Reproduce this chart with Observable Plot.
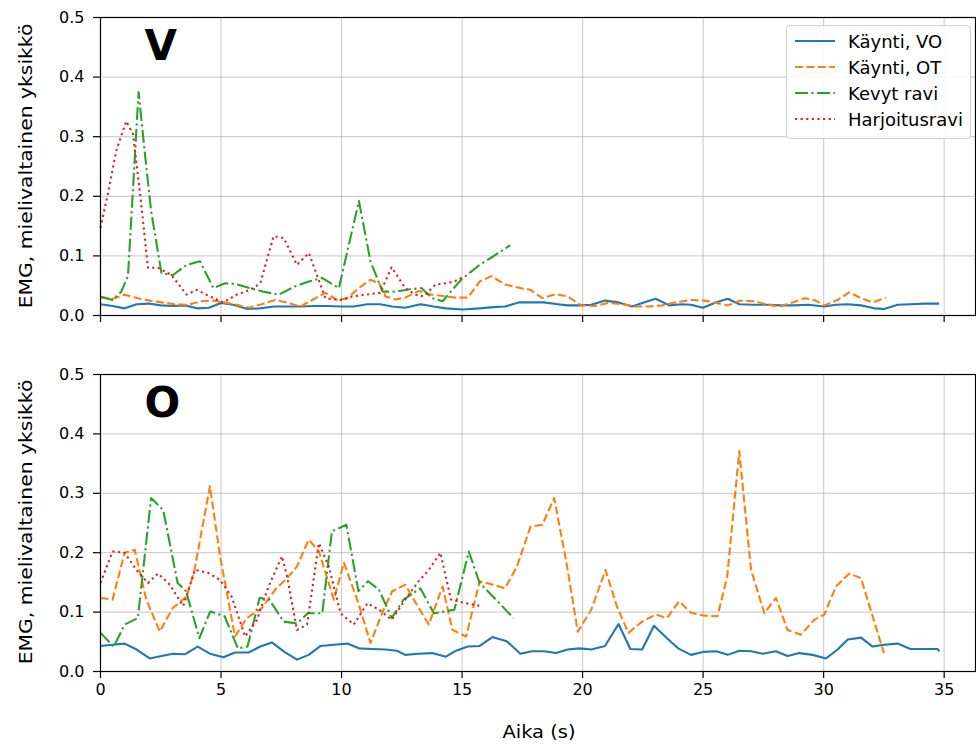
<!DOCTYPE html>
<html>
<head>
<meta charset="utf-8">
<script src="https://cdn.jsdelivr.net/npm/d3@7"></script>
<script src="https://cdn.jsdelivr.net/npm/@observablehq/plot@0.6"></script>
<style>
  html, body { margin: 0; padding: 0; background: #fff; }
  #root { position: relative; width: 976px; height: 745px; overflow: hidden; font-family: "DejaVu Sans", sans-serif; color: #000; }
  .ylab { position: absolute; font-size: 18px; white-space: nowrap; transform: translate(-50%, -50%) rotate(-90deg) scaleX(1.13); }
  .xlab { position: absolute; font-size: 18px; white-space: nowrap; transform: translate(-50%, -50%) scaleX(1.08); }
  #legend { position: absolute; left: 786px; top: 25px; width: 185px; height: 114px; border: 1px solid #d0d0d0; border-radius: 4px; background: rgba(255,255,255,0.85); box-sizing: border-box; }
  #legend .row { position: absolute; left: 4px; height: 26px; display: flex; align-items: center; font-size: 18px; white-space: nowrap; }
  #legend .row svg { margin-right: 13px; }
</style>
</head>
<body>
<div id="root"></div>
<script>
// ---- Data ----
const seriesNames = ["Käynti, VO", "Käynti, OT", "Kevyt ravi", "Harjoitusravi"];
const seriesColors = ["#1f77b4", "#ff7f0e", "#2ca02c", "#d62728"];
const seriesDash = [null, "8,3.4", "13,3.4,2.2,3.4", "2.2,3.4"];
const panelLabels = ["V", "O"];
const xTicks = [0, 5, 10, 15, 20, 25, 30, 35];
const yTicks = [0, 0.1, 0.2, 0.3, 0.4, 0.5];

// Panel V: [time (s), EMG]
const V_kayntiVO = [[0,0.019],[0.5,0.016],[1.0,0.012],[1.5,0.019],[2.0,0.02],[2.5,0.017],[3.0,0.016],[3.5,0.017],[4.0,0.012],[4.5,0.013],[5.0,0.021],[5.5,0.018],[6.1,0.011],[6.6,0.012],[7.2,0.015],[7.7,0.015],[8.3,0.015],[8.85,0.016],[9.4,0.016],[9.96,0.015],[10.5,0.015],[11.07,0.019],[11.6,0.019],[12.1,0.015],[12.64,0.013],[13.27,0.019],[13.83,0.015],[14.33,0.012],[15.03,0.01],[15.73,0.012],[16.29,0.014],[16.78,0.015],[17.35,0.022],[17.9,0.022],[18.4,0.022],[18.96,0.019],[19.38,0.017],[19.87,0.017],[20.36,0.018],[20.93,0.025],[21.49,0.022],[22.05,0.015],[22.54,0.022],[23.03,0.028],[23.6,0.017],[24.1,0.019],[24.5,0.018],[24.99,0.013],[25.47,0.021],[26.02,0.028],[26.5,0.019],[27.13,0.018],[27.68,0.018],[28.23,0.017],[28.78,0.017],[29.34,0.018],[30.03,0.015],[30.51,0.018],[30.99,0.019],[31.55,0.017],[32.1,0.012],[32.51,0.011],[33.07,0.018],[33.62,0.019],[34.17,0.02],[34.79,0.02]];
const V_kayntiOT = [[0,0.03],[0.5,0.028],[1.0,0.035],[1.55,0.029],[2.04,0.025],[2.53,0.022],[3.08,0.019],[3.64,0.018],[4.19,0.024],[4.68,0.025],[5.1,0.022],[5.65,0.018],[6.14,0.013],[6.7,0.019],[7.25,0.026],[7.8,0.021],[8.29,0.015],[8.78,0.026],[9.33,0.038],[9.82,0.026],[10.24,0.029],[10.72,0.046],[11.2,0.06],[11.56,0.054],[11.83,0.032],[12.25,0.027],[12.64,0.03],[13.2,0.041],[13.76,0.035],[14.33,0.032],[14.75,0.03],[15.24,0.03],[15.73,0.057],[16.22,0.066],[16.78,0.052],[17.42,0.046],[17.84,0.043],[18.33,0.029],[18.89,0.036],[19.38,0.032],[19.94,0.017],[20.5,0.016],[21.07,0.021],[21.63,0.019],[22.19,0.015],[22.75,0.015],[23.31,0.017],[23.85,0.022],[24.5,0.026],[25.06,0.025],[25.54,0.021],[26.02,0.017],[26.57,0.025],[27.13,0.024],[27.68,0.018],[28.16,0.015],[28.65,0.021],[29.2,0.029],[29.61,0.026],[30.03,0.017],[30.58,0.026],[31.06,0.039],[31.55,0.029],[32.03,0.022],[32.58,0.03]];
const V_kevytRavi = [[0,0.032],[0.5,0.026],[0.86,0.04],[1.14,0.066],[1.58,0.375],[1.83,0.276],[2.1,0.175],[2.53,0.071],[3.01,0.068],[3.57,0.085],[4.13,0.091],[4.68,0.046],[5.17,0.054],[5.58,0.053],[6.2,0.046],[6.76,0.04],[7.39,0.035],[8.08,0.049],[8.64,0.057],[9.19,0.063],[9.89,0.046],[10.72,0.192],[11.2,0.091],[11.7,0.04],[12.25,0.04],[12.85,0.044],[13.31,0.046],[13.76,0.029],[14.19,0.024],[14.96,0.06],[15.73,0.085],[16.29,0.099],[17.0,0.118]];
const V_harjoitusRavi = [[0,0.147],[0.3,0.203],[0.65,0.276],[1.07,0.326],[1.35,0.304],[1.63,0.209],[1.97,0.08],[2.39,0.08],[2.94,0.068],[3.57,0.035],[3.99,0.043],[4.54,0.032],[5.1,0.022],[5.65,0.035],[6.2,0.043],[6.63,0.054],[7.18,0.133],[7.6,0.13],[8.15,0.085],[8.64,0.105],[9.33,0.029],[9.96,0.026],[10.44,0.032],[11.0,0.035],[11.6,0.038],[12.08,0.081],[12.64,0.046],[13.06,0.035],[13.41,0.032],[13.9,0.052],[14.33,0.054],[14.68,0.057],[15.1,0.066]];

// Panel O: [time (s), EMG]
const O_kayntiVO = [[0,0.043],[0.5,0.045],[1.0,0.047],[1.5,0.037],[2.04,0.022],[2.53,0.026],[3.01,0.03],[3.5,0.029],[4.03,0.042],[4.54,0.03],[5.1,0.024],[5.58,0.032],[6.14,0.032],[6.63,0.042],[7.11,0.049],[7.6,0.034],[8.15,0.02],[8.64,0.028],[9.13,0.043],[9.68,0.045],[10.24,0.047],[10.72,0.039],[11.28,0.038],[11.83,0.037],[12.3,0.035],[12.64,0.028],[13.2,0.03],[13.76,0.031],[14.33,0.025],[14.75,0.035],[15.24,0.042],[15.73,0.043],[16.26,0.058],[16.85,0.051],[17.42,0.03],[17.9,0.034],[18.4,0.034],[18.9,0.031],[19.38,0.037],[19.87,0.039],[20.36,0.037],[20.93,0.043],[21.49,0.08],[21.98,0.038],[22.47,0.037],[22.96,0.077],[23.5,0.056],[24.0,0.038],[24.5,0.028],[24.99,0.033],[25.54,0.034],[26.02,0.028],[26.5,0.035],[26.99,0.034],[27.47,0.03],[28.02,0.034],[28.5,0.026],[28.99,0.031],[29.54,0.028],[30.1,0.022],[30.58,0.037],[31.0,0.054],[31.55,0.057],[32.03,0.042],[32.5,0.045],[33.07,0.047],[33.6,0.038],[34.17,0.038],[34.72,0.038],[34.8,0.034]];
const O_kayntiOT = [[0,0.124],[0.5,0.121],[1.0,0.2],[1.42,0.205],[1.9,0.121],[2.46,0.067],[3.0,0.107],[3.57,0.126],[3.9,0.171],[4.54,0.312],[4.96,0.194],[5.58,0.059],[6.07,0.09],[6.7,0.107],[7.25,0.138],[7.74,0.157],[8.15,0.177],[8.64,0.222],[9.06,0.202],[9.68,0.121],[10.1,0.183],[10.7,0.115],[11.2,0.048],[11.7,0.1],[12.1,0.135],[12.64,0.146],[13.13,0.112],[13.62,0.079],[14.19,0.143],[14.6,0.07],[15.17,0.059],[15.73,0.152],[16.29,0.146],[16.78,0.14],[17.28,0.177],[17.84,0.244],[18.33,0.247],[18.82,0.292],[19.31,0.188],[19.8,0.067],[20.36,0.104],[20.95,0.171],[21.42,0.11],[21.9,0.065],[22.47,0.084],[23.03,0.096],[23.5,0.09],[24.0,0.118],[24.5,0.099],[25.06,0.094],[25.6,0.093],[26.0,0.16],[26.5,0.371],[26.99,0.171],[27.54,0.098],[28.02,0.124],[28.5,0.07],[29.06,0.062],[29.61,0.087],[30.03,0.096],[30.51,0.143],[31.06,0.165],[31.55,0.157],[32.5,0.031]];
const O_kevytRavi = [[0,0.065],[0.55,0.042],[1.0,0.079],[1.55,0.09],[2.1,0.292],[2.6,0.272],[3.2,0.149],[3.55,0.135],[4.1,0.056],[4.55,0.101],[5.15,0.093],[5.7,0.039],[6.1,0.042],[6.6,0.124],[7.0,0.121],[7.6,0.084],[8.15,0.081],[8.6,0.098],[9.2,0.098],[9.6,0.236],[10.2,0.247],[10.7,0.135],[11.1,0.152],[11.55,0.138],[12.08,0.09],[12.57,0.121],[13.27,0.14],[13.83,0.098],[14.68,0.104],[15.28,0.202],[15.73,0.149],[16.29,0.126],[17.13,0.09]];
const O_harjoitusRavi = [[0,0.149],[0.5,0.202],[1.0,0.2],[1.49,0.171],[1.97,0.149],[2.39,0.165],[2.88,0.146],[3.43,0.11],[3.92,0.171],[4.47,0.166],[4.96,0.154],[5.44,0.126],[6.0,0.059],[6.49,0.087],[6.97,0.143],[7.53,0.194],[7.74,0.16],[8.15,0.07],[8.57,0.079],[9.06,0.216],[9.47,0.177],[9.96,0.098],[10.51,0.079],[11.07,0.115],[11.56,0.104],[12.08,0.087],[12.64,0.121],[13.2,0.152],[13.62,0.171],[14.1,0.2],[14.54,0.121],[15.17,0.115],[15.8,0.11]];

const panelV = [V_kayntiVO, V_kayntiOT, V_kevytRavi, V_harjoitusRavi];
const panelO = [O_kayntiVO, O_kayntiOT, O_kevytRavi, O_harjoitusRavi];

// ---- Drawing ----
function makePanel(seriesList, label, opts) {
  const lines = seriesList.map((s, i) => Plot.line(s, {
    x: d => d[0], y: d => d[1],
    stroke: seriesColors[i], strokeWidth: 2.1,
    strokeDasharray: seriesDash[i] || undefined,
    strokeLinecap: "butt", strokeLinejoin: "round"
  }));
  return Plot.plot({
    width: 976, height: opts.height,
    marginLeft: 100, marginRight: 1, marginTop: opts.marginTop, marginBottom: opts.marginBottom,
    x: {domain: [0, 36.3]},
    y: {domain: [0, 0.5]},
    style: {fontFamily: "DejaVu Sans, sans-serif", fontSize: "16px", color: "#000", background: "transparent", overflow: "visible"},
    marks: [
      Plot.gridX(xTicks, {stroke: "#b0b0b0", strokeOpacity: 0.6, strokeWidth: 1.2}),
      Plot.gridY(yTicks, {stroke: "#b0b0b0", strokeOpacity: 0.6, strokeWidth: 1.2}),
      ...lines,
      Plot.frame({stroke: "#000", strokeWidth: 1.2}),
      Plot.axisX(xTicks, {tickSize: 7, tickPadding: 5, label: null, strokeWidth: 1.2,
        tickFormat: opts.showX ? (d => String(d)) : (() => ""), fontSize: 16}),
      Plot.axisY(yTicks, {tickSize: 7, tickPadding: 9, label: null, strokeWidth: 1.2,
        tickFormat: d => d.toFixed(1), fontSize: 16}),
      Plot.text([label], {text: d => d, frameAnchor: "top-left", dx: 44, dy: 13,
        fontSize: 42, fontWeight: "bold", fill: "#000"})
    ]
  });
}

const root = document.getElementById("root");

const topPanel = makePanel(panelV, panelLabels[0], {height: 340, marginTop: 17, marginBottom: 25, showX: false});
topPanel.style.position = "absolute"; topPanel.style.left = "0px"; topPanel.style.top = "0px";
root.appendChild(topPanel);

const bottomPanel = makePanel(panelO, panelLabels[1], {height: 405, marginTop: 34, marginBottom: 74, showX: true});
bottomPanel.style.position = "absolute"; bottomPanel.style.left = "0px"; bottomPanel.style.top = "340px";
root.appendChild(bottomPanel);

// Axis labels
const yLabelText = "EMG, mielivaltainen yksikkö";
[166, 522].forEach(cy => {
  const d = document.createElement("div");
  d.className = "ylab";
  d.style.left = "25px"; d.style.top = cy + "px";
  d.textContent = yLabelText;
  root.appendChild(d);
});
const xl = document.createElement("div");
xl.className = "xlab";
xl.style.left = "539px"; xl.style.top = "731px";
xl.textContent = "Aika (s)";
root.appendChild(xl);

// Legend (top panel)
const legend = document.createElement("div");
legend.id = "legend";
seriesNames.forEach((name, i) => {
  const row = document.createElement("div");
  row.className = "row";
  row.style.top = (2 + i * 26) + "px";
  const svg = d3.create("svg").attr("width", 44).attr("height", 10);
  svg.append("line").attr("x1", 4).attr("x2", 44).attr("y1", 5).attr("y2", 5)
    .attr("stroke", seriesColors[i]).attr("stroke-width", 2.1)
    .attr("stroke-dasharray", seriesDash[i]);
  row.appendChild(svg.node());
  const t = document.createElement("span");
  t.textContent = name;
  row.appendChild(t);
  legend.appendChild(row);
});
root.appendChild(legend);
</script>
</body>
</html>
